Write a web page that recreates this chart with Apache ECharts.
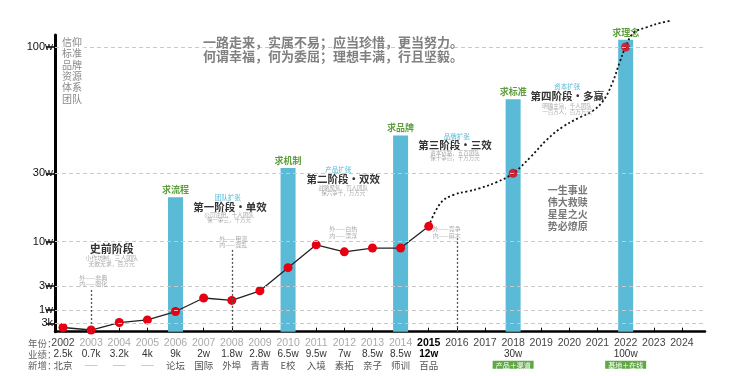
<!DOCTYPE html>
<html><head><meta charset="utf-8">
<script src="https://cdn.jsdelivr.net/npm/echarts@6/dist/echarts.min.js"></script>
<style>html,body{margin:0;padding:0;background:#fff}#c{width:730px;height:376px}</style>
</head><body><div id="c"></div>
<script>
// ---------- data ----------
const years = [2002,2003,2004,2005,2006,2007,2008,2009,2010,2011,2012,2013,2014,2015,2016,2017,2018,2019,2020,2021,2022,2023,2024];
const perfLabels = ['2.5k','0.7k','3.2k','4k','9k','2w','1.8w','2.8w','6.5w','9.5w','7w','8.5w','8.5w','12w','','','30w','','','','100w','',''];
const newLabels = ['北京','——','——','——','论坛','国际','外埠','青青','E校','入境','素拓','亲子','师训','百品','','','产品＋渠道','','','','基地＋在线','',''];
// performance as drawn in the picture, in units of w (10,000)
const lineYears = [2002,2003,2004,2005,2006,2007,2008,2009,2010,2011,2012,2013,2014,2015];
const lineValues = [0.15,0.06,0.34,0.48,0.92,2,1.8,2.6,5.9,9.5,8.4,9,9,14.5];
// projected trend (dotted)
const curveYears = [2015,2015.42,2015.88,2016.38,2016.84,2017.44,2018,2018.62,2019.19,2019.76,2020.33,2020.83,2021.22,2021.54,2021.79,2022,2022.28,2022.78,2023.25,2023.57];
const curveValues = [14.5,21.3,23.7,24.7,25.7,27.5,30,39,48.5,55.7,60.7,64.6,70.6,80.6,91.7,100,107.8,111.1,113.4,114.5];
const targetYears = [2018,2022];
const targetValues = [30,100];
// stage bars
const barYears = [2006,2010,2014,2018,2022];
const barValues = [23,33,51,71,104];
const barNames = ['求流程','求机制','求品牌','求标准','求理念'];
// y axis ticks
const tickValues = [0.3,1,3,10,30,100];
const tickLabels = ['3k','1w','3w','10w','30w','100w'];
// custom (non-linear) axis scale: value -> axis unit, piecewise
const scaleValues = [0,0.3,1,3,10,30,100];
const scaleSteps  = [0,8.4,21.7,45.7,90,158.4,284.7];

function toUnits(v){
  for(let i=1;i<scaleValues.length;i++){
    if(v<=scaleValues[i]){
      const a=scaleValues[i-1],b=scaleValues[i],ua=scaleSteps[i-1],ub=scaleSteps[i];
      return ua+(v-a)/(b-a)*(ub-ua);
    }
  }
  const n=scaleValues.length-1;
  const slope=(scaleSteps[n]-scaleSteps[n-1])/(scaleValues[n]-scaleValues[n-1]);
  return scaleSteps[n]+(v-scaleValues[n])*slope;
}
const tickUnits = tickValues.map(toUnits);

const FONT = '"Liberation Sans","Noto Sans CJK SC",sans-serif';
const CJK = '"Noto Sans CJK SC",sans-serif';

function yearStyle(y){
  if(y===2015) return 'yb';
  if(y===2002 || y>=2016) return 'yd';
  return 'yl';
}
function xLabel(val){
  const i = years.indexOf(Math.round(val));
  if(i<0) return '';
  const y = years[i];
  const p = perfLabels[i] || ' ';
  const n = newLabels[i] || ' ';
  const ps = y===2015 ? 'vb' : 'v';
  const ns = (n.indexOf('＋')>=0) ? 'g' : (n==='——' ? 'd' : 'n');
  return '{'+yearStyle(y)+'|'+y+'}\n{'+ps+'|'+p+'}\n{'+ns+'|'+n+'}';
}

function t(text,x,y,size,fill,weight,align,z){
  return {type:'text',x:x,y:y,z:z||50,silent:true,
    style:{text:text,fill:fill,font:(weight||'normal')+' '+size+'px '+CJK,
      textAlign:align||'center',textVerticalAlign:'middle'}};
}
const grey='#ababab', blue='#5bb8d6', dark='#333';
const graphics = [
  {type:'rect',z:49,shape:{x:60,y:36,width:24,height:68},style:{fill:'#fff'},silent:true},
  t('信仰',62,42.3,10,'#8a8a8a','normal','left'),
  t('标准',62,53.6,10,'#8a8a8a','normal','left'),
  t('品牌',62,64.9,10,'#8a8a8a','normal','left'),
  t('资源',62,76.2,10,'#8a8a8a','normal','left'),
  t('体系',62,87.5,10,'#8a8a8a','normal','left'),
  t('团队',62,98.8,10,'#8a8a8a','normal','left'),
  t('一路走来，实属不易；应当珍惜，更当努力。',333,41.7,13,'#808080','bold'),
  t('何谓幸福，何为委屈；理想丰满，行且坚毅。',333,56.2,13,'#808080','bold'),
  // prehistory
  t('史前阶段',111.7,249.3,11,dark,'bold'),
  t('小作坊制，三人团队',111.7,257.7,5.8,grey),
  t('无欲无求，百万元',111.7,263.4,5.8,grey),
  t('外——非典',93.3,277.3,6,grey),
  t('内——刚化',93.3,283.3,6,grey),
  // stage 1
  t('团队扩张',227.7,197.7,6.5,blue),
  t('第一阶段·单效',230,207.3,10.5,dark,'bold'),
  t('公司注册，十人团队',229,215,5.5,grey),
  t('保一争三，千万元',229,220.3,5.5,grey),
  t('外——甲流',233.3,238.3,6,grey),
  t('内——混乱',233.3,245,6,grey),
  // stage 2
  t('产品扩张',338.3,170,6.5,blue),
  t('第二阶段·双效',343.3,179.3,10.5,dark,'bold'),
  t('战略聚焦，百人团队',343.3,187.7,5.5,grey),
  t('保六争十，万万元',343.3,192.8,5.5,grey),
  t('外——白热',343.3,228.3,6,grey),
  t('内——漂浮',343.3,235.7,6,grey),
  // stage 3
  t('品牌扩张',456.7,136.7,6.5,blue),
  t('第三阶段·三效',455,145,10.5,dark,'bold'),
  t('资本链路，五百团队',455,152.7,5.5,grey),
  t('保十争百，十万万元',455,158,5.5,grey),
  t('外——竞争',446.7,228.3,6,grey),
  t('内——麻木',446.7,235.7,6,grey),
  // stage 4
  t('资本扩张',567.3,86.7,6.5,blue),
  t('第四阶段·多赢',567.3,96,10.5,dark,'bold'),
  t('明确主旨，千人团队',567,106,5.5,grey),
  t('一百万人，百万万元',567,111.5,5.5,grey),
  // motto
  t('一生事业',567.7,190,10,'#777','bold'),
  t('伟大救赎',567.7,202.2,10,'#777','bold'),
  t('星星之火',567.7,214.3,10,'#777','bold'),
  t('势必燎原',567.7,226.2,10,'#777','bold'),
  // table row titles
  t('年份：',28,343,9.5,'#666','normal','left'),
  t('业绩：',28,354,9.5,'#666','normal','left'),
  t('新增：',28,365,9.5,'#666','normal','left')
];

const vLines = [[2003,2.67],[2008,8.7],[2016,11.1]];

const chart = echarts.init(document.getElementById('c'),null,{renderer:'canvas'});
chart.setOption({
  animation:false,
  textStyle:{fontFamily:FONT},
  grid:{left:55,right:25,top:35,bottom:44.3,containLabel:false},
  xAxis:{type:'value',min:2001.716,max:2024.82,
    axisLine:{show:true,onZero:false,lineStyle:{color:'#000',width:2.5}},
    axisTick:{show:true,inside:true,length:4,customValues:years,lineStyle:{color:'#000',width:1}},
    splitLine:{show:false},
    axisLabel:{show:true,customValues:years,margin:6,formatter:xLabel,
      rich:{
        yl:{fontSize:10.5,color:'#aaa',lineHeight:11,fontFamily:FONT},
        yd:{fontSize:10.5,color:'#444',lineHeight:11,fontFamily:FONT},
        yb:{fontSize:10.5,color:'#000',fontWeight:'bold',lineHeight:11,fontFamily:FONT},
        v:{fontSize:10,color:'#333',lineHeight:11,fontFamily:FONT},
        vb:{fontSize:10,color:'#000',fontWeight:'bold',lineHeight:11,fontFamily:FONT},
        n:{fontSize:9.5,color:'#555',lineHeight:11,fontFamily:CJK},
        d:{fontSize:8,color:'#999',lineHeight:11,fontFamily:CJK},
        g:{fontSize:7,color:'#fff',backgroundColor:'#5fa845',padding:[1,3,0,3],lineHeight:10,fontFamily:CJK}
      }}
  },
  yAxis:{type:'value',min:0,max:296.7,
    axisLine:{show:true,lineStyle:{color:'#000',width:3}},
    axisTick:{show:true,length:9,customValues:tickUnits,lineStyle:{color:'#000',width:1.5}},
    splitLine:{show:false},
    axisLabel:{show:true,customValues:tickUnits,margin:2,fontSize:11,color:'#111',
      formatter:function(v){
        for(let i=0;i<tickUnits.length;i++){ if(Math.abs(tickUnits[i]-v)<0.01) return tickLabels[i]; }
        return '';
      }}
  },
  graphic:graphics,
  series:[
    {type:'line',data:[],z:1,silent:true,
      markLine:{silent:true,symbol:['none','none'],label:{show:false},
        lineStyle:{color:'#c9c9c9',type:[4,3],width:1},
        data:tickUnits.map(u=>({yAxis:u}))}},
    {type:'line',data:[],z:1,silent:true,
      markLine:{silent:true,symbol:['none','none'],label:{show:false},
        lineStyle:{color:'#555',type:[2,2],width:1.3},
        data:vLines.map(p=>[{coord:[p[0],toUnits(p[1])]},{coord:[p[0],0]}])}},
    {type:'bar',z:2,barWidth:15,
      data:barYears.map((y,i)=>[y,toUnits(barValues[i])]),
      itemStyle:{color:'#5bbad5'},
      label:{show:true,position:'top',distance:3,fontSize:9,fontWeight:'bold',color:'#5e9e3c',fontFamily:CJK,
        formatter:function(p){return barNames[p.dataIndex];}}},
    {type:'line',z:3,data:lineYears.map((y,i)=>[y,toUnits(lineValues[i])]),
      symbol:'circle',symbolSize:9,itemStyle:{color:'#e60012'},
      lineStyle:{color:'#222',width:1.3}},
    {type:'line',z:3,clip:false,smooth:0.4,showSymbol:false,
      data:curveYears.map((y,i)=>[y,toUnits(curveValues[i])]),
      lineStyle:{color:'#111',width:1.8,type:[2,2.5]}},
    {type:'scatter',z:4,symbolSize:9,itemStyle:{color:'#e60012'},
      data:targetYears.map((y,i)=>[y,toUnits(targetValues[i])])}
  ]
});
</script></body></html>
